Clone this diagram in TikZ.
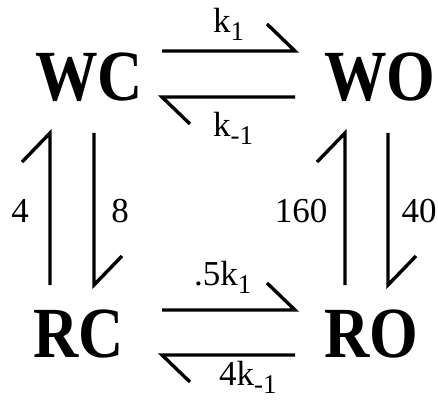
\documentclass[tikz,border=0pt]{standalone}
\usepackage{fontspec}
\setmainfont{Liberation Serif}
\newfontfamily\bigfont[FakeStretch=0.87]{Liberation Serif}
\newcommand{\lowsub}[1]{\raisebox{-8pt}{\fontsize{27}{27}\selectfont #1}}
\begin{document}
\begin{tikzpicture}[x=1pt,y=-1pt,
  species/.style={inner sep=0pt,anchor=base,font=\bigfont\fontsize{72}{72}\selectfont\bfseries},
  rate/.style={inner sep=0pt,anchor=base,font=\fontsize{35}{35}\selectfont},
  conn/.style={line width=3.4pt,line cap=butt,line join=miter}]
\useasboundingbox (0,0) rectangle (438,403);
% species
\node[species] (WC) at (89,101) {WC};
\node[species] (WO) at (380,101) {WO};
\node[species] (RC) at (79,357) {RC};
\node[species] (RO) at (371,357) {RO};
% arrow end points
\coordinate (a1s) at (162,51);  \coordinate (a1e) at (295,51);
\coordinate (a2s) at (295,97);  \coordinate (a2e) at (162,97);
\coordinate (a3s) at (162,310); \coordinate (a3e) at (295,310);
\coordinate (a4s) at (295,355); \coordinate (a4e) at (162,355);
\coordinate (v1s) at (50,285);  \coordinate (v1e) at (50,133);
\coordinate (v2s) at (94,133);  \coordinate (v2e) at (94,285);
\coordinate (v3s) at (345,285); \coordinate (v3e) at (345,133);
\coordinate (v4s) at (388,133); \coordinate (v4e) at (388,285);
% horizontal arrows
\draw[conn] (a1s) -- (a1e) -- ++(-28,-27);
\draw[conn] (a2s) -- (a2e) -- ++(28,27);
\draw[conn] (a3s) -- (a3e) -- ++(-28,-27);
\draw[conn] (a4s) -- (a4e) -- ++(28,27);
% vertical arrows
\draw[conn] (v1s) -- (v1e) -- ++(-28,29);
\draw[conn] (v2s) -- (v2e) -- ++(28,-29);
\draw[conn] (v3s) -- (v3e) -- ++(-28,29);
\draw[conn] (v4s) -- (v4e) -- ++(28,-29);
% rate labels
\node[rate,anchor=base west] (r1) at (213,33) {k\lowsub{1}};
\node[rate,anchor=base west] (r2) at (213,137) {k\lowsub{-1}};
\node[rate,anchor=base west] (r3) at (194,285) {.5k\lowsub{1}};
\node[rate,anchor=base west] (r4) at (219,385) {4k\lowsub{-1}};
\node[rate] (r5) at (20,222) {4};
\node[rate] (r6) at (120,222) {8};
\node[rate] (r7) at (301,222) {160};
\node[rate] (r8) at (419,222) {40};
\end{tikzpicture}
\end{document}
